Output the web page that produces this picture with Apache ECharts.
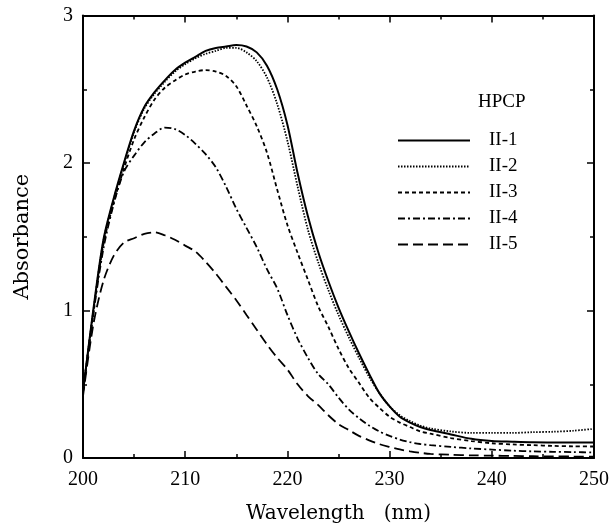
<!DOCTYPE html>
<html>
<head>
<meta charset="utf-8">
<script src="https://cdn.jsdelivr.net/npm/echarts@6/dist/echarts.min.js"></script>
<style>html,body{margin:0;padding:0;background:#fff;}#c{width:612px;height:529px;}</style>
</head>
<body>
<div id="c"></div>
<script>
var wavelengths = [200,201,202,203,204,205,206,207,208,209,210,211,212,213,214,215,216,217,218,219,220,221,222,223,224,225,226,227,228,229,230,231,232,233,234,236,238,240,242,244,246,248,250];
var ii1 = [0.45,1.00,1.48,1.76,2.00,2.22,2.38,2.48,2.56,2.63,2.68,2.72,2.76,2.78,2.79,2.80,2.79,2.75,2.66,2.50,2.26,1.93,1.64,1.40,1.20,1.02,0.86,0.71,0.57,0.44,0.35,0.28,0.24,0.21,0.19,0.16,0.13,0.115,0.11,0.106,0.105,0.105,0.105];
var ii2 = [0.45,0.99,1.47,1.75,1.99,2.21,2.37,2.47,2.55,2.62,2.67,2.71,2.74,2.76,2.78,2.78,2.75,2.69,2.58,2.40,2.15,1.84,1.55,1.33,1.14,0.97,0.82,0.68,0.55,0.44,0.35,0.29,0.25,0.22,0.20,0.18,0.17,0.17,0.17,0.175,0.178,0.185,0.198];
var ii3 = [0.45,0.98,1.45,1.73,1.96,2.16,2.31,2.43,2.51,2.56,2.60,2.62,2.63,2.62,2.59,2.52,2.39,2.25,2.07,1.82,1.58,1.39,1.21,1.03,0.89,0.74,0.61,0.51,0.41,0.34,0.28,0.24,0.21,0.18,0.165,0.135,0.115,0.10,0.092,0.087,0.082,0.079,0.078];
var ii4 = [0.45,0.97,1.42,1.72,1.94,2.05,2.14,2.20,2.24,2.23,2.19,2.13,2.06,1.97,1.84,1.69,1.56,1.43,1.28,1.15,0.97,0.81,0.68,0.57,0.50,0.41,0.33,0.27,0.22,0.18,0.15,0.125,0.107,0.095,0.087,0.075,0.065,0.057,0.05,0.045,0.042,0.04,0.038];
var ii5 = [0.42,0.90,1.20,1.37,1.46,1.49,1.52,1.53,1.51,1.48,1.44,1.40,1.33,1.25,1.16,1.07,0.97,0.87,0.77,0.68,0.60,0.50,0.42,0.36,0.29,0.23,0.19,0.15,0.12,0.094,0.075,0.058,0.045,0.035,0.028,0.022,0.018,0.016,0.014,0.012,0.011,0.010,0.010];
var seriesNames = ['II-1','II-2','II-3','II-4','II-5'];
var xTicks = [200,210,220,230,240,250];
var yTicks = [0,1,2,3];

var seriesValues = [ii1, ii2, ii3, ii4, ii5];
var dashTypes = ['solid', [1.5,1.5], [4,3], [7,3,2,3], [10,5]];
var widths = [2, 1.8, 1.8, 1.8, 1.8];
function zip(vals){ return wavelengths.map(function(w,i){ return [w, vals[i]]; }); }

var serif = 'Liberation Serif';
var chart = echarts.init(document.getElementById('c'), null, {renderer:'canvas'});
var axisCommon = {
  axisLine:{show:true, onZero:false, lineStyle:{color:'#000', width:2}},
  axisTick:{show:true, inside:true, length:7, lineStyle:{color:'#000', width:1.5}},
  minorTick:{show:true, splitNumber:2, length:4, lineStyle:{color:'#000', width:1.5}},
  splitLine:{show:false}
};
chart.setOption({
  animation:false,
  backgroundColor:'#fff',
  grid:{left:83, right:15, top:15.5, bottom:66.5, containLabel:false},
  legend:{
    orient:'vertical', left:392, top:126,
    itemWidth:72, itemHeight:20, itemGap:7,
    itemStyle:{opacity:0},
    textStyle:{fontFamily:serif, fontSize:19, color:'#000', padding:[0,0,0,14]},
    data:seriesNames
  },
  graphic:[{type:'text', left:478, top:93, style:{text:'HPCP', fontFamily:serif, fontSize:19, fill:'#000'}}],
  xAxis:[
    Object.assign({type:'value', min:200, max:250, interval:10, position:'bottom',
      name:'Wavelength   (nm)', nameLocation:'middle', nameGap:46,
      nameTextStyle:{fontFamily:'DejaVu Serif', fontSize:20, color:'#000'},
      axisLabel:{fontFamily:serif, fontSize:20, color:'#000', margin:12,
        formatter:function(v){ return xTicks.indexOf(v)>=0 ? String(v) : ''; }}}, axisCommon),
    Object.assign({type:'value', min:200, max:250, interval:10, position:'top', axisLabel:{show:false}}, axisCommon)
  ],
  yAxis:[
    Object.assign({type:'value', min:0, max:3, interval:1, position:'left',
      name:'Absorbance', nameLocation:'middle', nameGap:50, nameRotate:90,
      nameTextStyle:{fontFamily:'DejaVu Serif', fontSize:21, color:'#000'},
      axisLabel:{fontFamily:serif, fontSize:20, color:'#000', margin:10,
        formatter:function(v){ return yTicks.indexOf(v)>=0 ? String(v) : ''; }}}, axisCommon),
    Object.assign({type:'value', min:0, max:3, interval:1, position:'right', axisLabel:{show:false}}, axisCommon)
  ],
  series: seriesNames.map(function(n,i){
    return {name:n, type:'line', data:zip(seriesValues[i]), smooth:0.3, symbol:'none', showSymbol:false,
      itemStyle:{color:'#000'},
      lineStyle:{color:'#000', width:widths[i], type:dashTypes[i]}};
  })
});
</script>
</body>
</html>
